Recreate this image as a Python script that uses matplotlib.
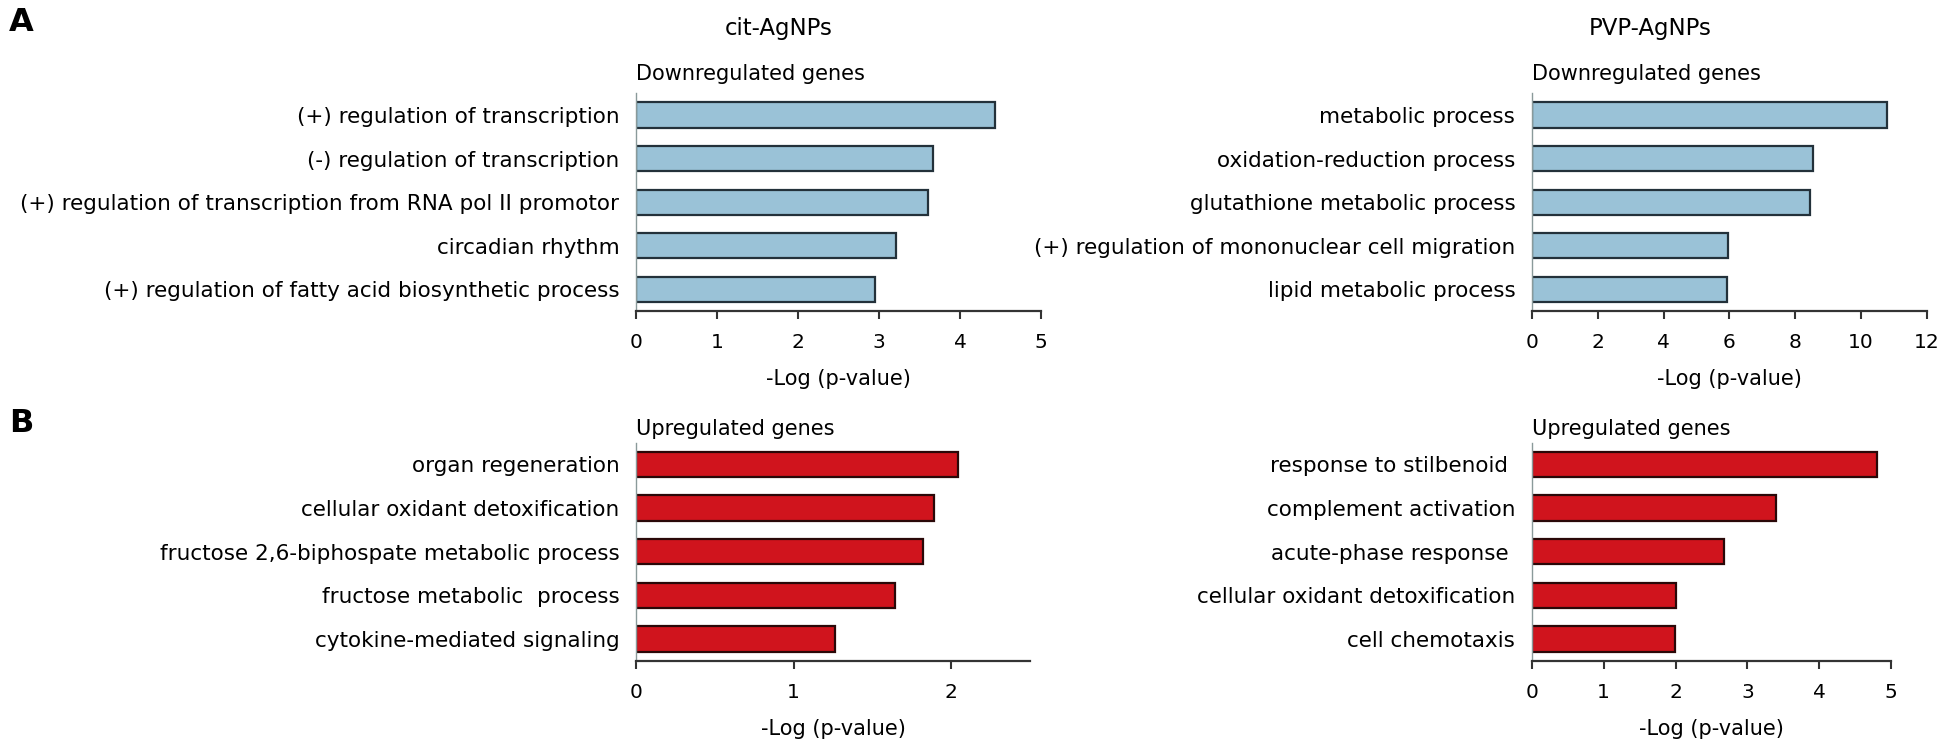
import matplotlib
matplotlib.use("Agg")
import matplotlib.pyplot as plt

# GO term enrichment, -log(p-value)
cit_down_terms = [
    "(+) regulation of transcription",
    "(-) regulation of transcription",
    "(+) regulation of transcription from RNA pol II promotor",
    "circadian rhythm",
    "(+) regulation of fatty acid biosynthetic process",
]
cit_down_vals = [4.43, 3.67, 3.60, 3.21, 2.95]

pvp_down_terms = [
    "metabolic process",
    "oxidation-reduction process",
    "glutathione metabolic process",
    "(+) regulation of mononuclear cell migration",
    "lipid metabolic process",
]
pvp_down_vals = [10.8, 8.55, 8.45, 5.97, 5.93]

cit_up_terms = [
    "organ regeneration",
    "cellular oxidant detoxification",
    "fructose 2,6-biphospate metabolic process",
    "fructose metabolic  process",
    "cytokine-mediated signaling",
]
cit_up_vals = [2.04, 1.89, 1.82, 1.64, 1.26]

pvp_up_terms = [
    "response to stilbenoid ",
    "complement activation",
    "acute-phase response ",
    "cellular oxidant detoxification",
    "cell chemotaxis",
]
pvp_up_vals = [4.81, 3.40, 2.67, 2.00, 1.99]

BLUE = "#9ac2d7"
RED = "#d0141d"

plt.rcParams["font.family"] = ["DejaVu Sans"]

fig = plt.figure(figsize=(19.5, 7.47), dpi=100)


def bar_panel(rect, terms, vals, color, edge, xmax, ticks, header, header_y):
    ax = fig.add_axes(rect)
    pos = list(range(len(terms)))
    ax.barh(pos, vals, height=0.58, color=color, edgecolor=edge, linewidth=1.6)
    ax.set_ylim(len(terms) - 0.5, -0.5)
    ax.set_xlim(0, xmax)
    ax.set_xticks(ticks)
    ax.set_yticks(pos)
    ax.set_yticklabels(terms, fontsize=15.5)
    ax.tick_params(axis="y", length=0, pad=12)
    ax.tick_params(axis="x", length=6, width=1.5, color="#333333",
                   labelsize=14.5, pad=10)
    for s in ("top", "right"):
        ax.spines[s].set_visible(False)
    ax.spines["bottom"].set_color("#333333")
    ax.spines["bottom"].set_linewidth(1.6)
    ax.spines["left"].set_color("#8a9a9a")
    ax.spines["left"].set_linewidth(1.0)
    ax.set_xlabel("-Log (p-value)", fontsize=15, labelpad=12)
    ax.text(0, header_y, header, transform=ax.transAxes, fontsize=15,
            ha="left", va="center")
    return ax


bar_panel([0.3262, 0.5833, 0.2077, 0.292], cit_down_terms, cit_down_vals,
          BLUE, "#23313a", 5, [0, 1, 2, 3, 4, 5], "Downregulated genes", 1.087)
bar_panel([0.7856, 0.5833, 0.2026, 0.292], pvp_down_terms, pvp_down_vals,
          BLUE, "#23313a", 12, [0, 2, 4, 6, 8, 10, 12], "Downregulated genes", 1.087)
bar_panel([0.3262, 0.1154, 0.2021, 0.292], cit_up_terms, cit_up_vals,
          RED, "#2a0808", 2.5, [0, 1, 2], "Upregulated genes", 1.062)
bar_panel([0.7856, 0.1154, 0.1841, 0.292], pvp_up_terms, pvp_up_vals,
          RED, "#2a0808", 5, [0, 1, 2, 3, 4, 5], "Upregulated genes", 1.062)

fig.text(0.3995, 0.9625, "cit-AgNPs", fontsize=16.5, ha="center", va="center")
fig.text(0.846, 0.9625, "PVP-AgNPs", fontsize=16.5, ha="center", va="center")
fig.text(0.0108, 0.9705, "A", fontsize=23, fontweight="bold", ha="center", va="center")
fig.text(0.0108, 0.4337, "B", fontsize=23, fontweight="bold", ha="center", va="center")

fig.savefig("out.png", dpi=100)
